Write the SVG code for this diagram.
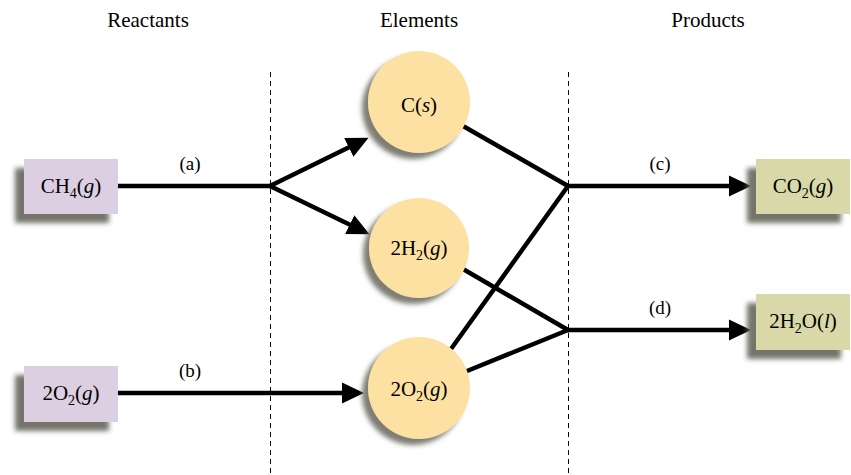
<svg xmlns="http://www.w3.org/2000/svg" width="851" height="475" viewBox="0 0 851 475">
<defs>
<filter id="shadow" x="-30%" y="-30%" width="160%" height="160%">
<feGaussianBlur in="SourceAlpha" stdDeviation="2.5" result="b"/>
<feOffset in="b" dx="-9" dy="9" result="o"/>
<feFlood flood-color="#66665c" flood-opacity="0.9"/>
<feComposite in2="o" operator="in" result="s"/>
<feMerge><feMergeNode in="s"/><feMergeNode in="SourceGraphic"/></feMerge>
</filter>
<filter id="cshadow" x="-30%" y="-30%" width="160%" height="160%">
<feGaussianBlur in="SourceAlpha" stdDeviation="2.5" result="b"/>
<feOffset in="b" dx="-6" dy="6" result="o"/>
<feFlood flood-color="#66665c" flood-opacity="0.85"/>
<feComposite in2="o" operator="in" result="s"/>
<feMerge><feMergeNode in="s"/><feMergeNode in="SourceGraphic"/></feMerge>
</filter>
<marker id="arrow" markerUnits="userSpaceOnUse" markerWidth="24" markerHeight="24" viewBox="0 -12 24 24" refX="2" refY="0" orient="auto">
<path d="M0,-10.5 L22,0 L0,10.5 z" fill="#000"/>
</marker>
</defs>
<style>
text{font-family:"Liberation Serif","Times New Roman",serif;fill:#000;}
.hdr{font-size:21px;text-anchor:middle;}
.lbl{font-size:19px;text-anchor:middle;}
.nt{font-size:21px;text-anchor:middle;}
.sub{font-size:14px;}
.reac{fill:#dccfe2;}
.prod{fill:#d8d8a8;}
.elem{fill:#fde1a2;}
.div{stroke:#000;stroke-width:1;stroke-dasharray:5,4;fill:none;}
.conn{stroke:#000;stroke-width:4.5;fill:none;stroke-linecap:round;}
.arr{marker-end:url(#arrow);stroke-linecap:butt;}
</style>
<rect width="851" height="475" fill="#fff"/>
<g id="headers">
<text class="hdr" x="148" y="27">Reactants</text>
<text class="hdr" x="419" y="27">Elements</text>
<text class="hdr" x="708" y="27">Products</text>
</g>
<g id="dividers">
<line class="div" x1="270.5" y1="72" x2="270.5" y2="475"/>
<line class="div" x1="568.5" y1="72" x2="568.5" y2="475"/>
</g>
<g id="connectors">
<line class="conn" x1="118" y1="186" x2="270" y2="186"/>
<line class="conn arr" x1="270" y1="186" x2="350.6" y2="146.5"/>
<line class="conn arr" x1="270" y1="186" x2="351.5" y2="225.5"/>
<line class="conn arr" x1="118" y1="393" x2="344" y2="393"/>
<line class="conn" x1="463" y1="126" x2="568" y2="186"/>
<line class="conn" x1="451" y1="349" x2="568" y2="186"/>
<line class="conn arr" x1="568" y1="186" x2="731" y2="186"/>
<line class="conn" x1="463" y1="269" x2="568" y2="330"/>
<line class="conn" x1="467" y1="371" x2="568" y2="330"/>
<line class="conn arr" x1="568" y1="330" x2="731" y2="330"/>
<text class="lbl" x="190" y="170">(a)</text>
<text class="lbl" x="190" y="377">(b)</text>
<text class="lbl" x="660" y="170">(c)</text>
<text class="lbl" x="660" y="314">(d)</text>
</g>
<g id="ch4">
<rect class="reac" x="24" y="159" width="94" height="55" filter="url(#shadow)"/>
<text class="nt" x="71" y="193">CH<tspan class="sub" dy="5">4</tspan><tspan dy="-5">(</tspan><tspan font-style="italic">g</tspan>)</text>
</g>
<g id="o2-reactant">
<rect class="reac" x="24" y="366" width="94" height="56" filter="url(#shadow)"/>
<text class="nt" x="71" y="400">2O<tspan class="sub" dy="5">2</tspan><tspan dy="-5">(</tspan><tspan font-style="italic">g</tspan>)</text>
</g>
<g id="c-element">
<circle class="elem" cx="419" cy="102" r="51" filter="url(#cshadow)"/>
<text class="nt" x="419" y="112">C(<tspan font-style="italic">s</tspan>)</text>
</g>
<g id="h2-element">
<circle class="elem" cx="419" cy="248" r="50" filter="url(#cshadow)"/>
<text class="nt" x="419" y="255">2H<tspan class="sub" dy="5">2</tspan><tspan dy="-5">(</tspan><tspan font-style="italic">g</tspan>)</text>
</g>
<g id="o2-element">
<circle class="elem" cx="419" cy="388" r="51" filter="url(#cshadow)"/>
<text class="nt" x="419" y="396">2O<tspan class="sub" dy="5">2</tspan><tspan dy="-5">(</tspan><tspan font-style="italic">g</tspan>)</text>
</g>
<g id="co2">
<rect class="prod" x="756" y="159" width="94" height="55" filter="url(#shadow)"/>
<text class="nt" x="803" y="193">CO<tspan class="sub" dy="5">2</tspan><tspan dy="-5">(</tspan><tspan font-style="italic">g</tspan>)</text>
</g>
<g id="h2o">
<rect class="prod" x="756" y="294" width="94" height="56" filter="url(#shadow)"/>
<text class="nt" x="803" y="328">2H<tspan class="sub" dy="5">2</tspan><tspan dy="-5">O(</tspan><tspan font-style="italic">l</tspan>)</text>
</g>
</svg>
